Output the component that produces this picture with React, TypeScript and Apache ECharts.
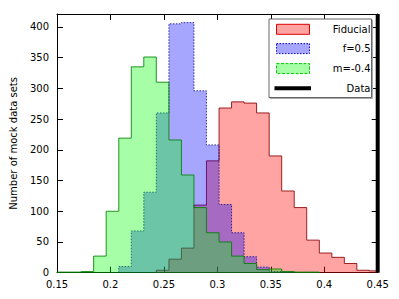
import React, { useEffect, useRef } from "react";
import * as echarts from "echarts";

// Shared histogram bin edges (27 edges -> 26 bins)
const binEdges = [
  0.1492, 0.1609, 0.1726, 0.1843, 0.196, 0.2078, 0.2195, 0.2312, 0.2429,
  0.2547, 0.2664, 0.2781, 0.2898, 0.3016, 0.3133, 0.325, 0.3367, 0.3485,
  0.3602, 0.3719, 0.3836, 0.3954, 0.4071, 0.4188, 0.4305, 0.4422, 0.454,
];

// Counts per bin
const fiducialCounts = [
  0, 0, 0, 0, 0, 0, 0, 0, 4, 22, 40, 110, 182, 268, 278, 276, 260, 190, 133,
  106, 53, 32, 25, 15, 4, 3,
];
const f05Counts = [
  0, 0, 0, 0, 0, 10, 68, 131, 260, 405, 407, 296, 208, 111, 65, 26, 9, 2, 1,
  0, 0, 0, 0, 0, 0, 0,
];
const mNeg04Counts = [
  1, 1, 2, 27, 100, 219, 335, 351, 310, 216, 159, 106, 65, 50, 27, 15, 5, 6,
  2, 1, 1, 0, 0, 0, 0, 0,
];

const dataValue = 0.45;
const seriesNames = ["Fiducial", "f=0.5", "m=-0.4", "Data"];
const xMin = 0.15;
const xMax = 0.45;
const xStep = 0.05;
const yMin = 0;
const yMax = 421;
const yStep = 50;
const yAxisTitle = "Number of mock data sets";

const FONT = "DejaVu Sans";

const fills = ["rgba(255,0,0,0.36)", "rgba(0,0,255,0.35)", "rgba(0,255,0,0.35)"];
const strokes = ["rgba(139,0,0,0.85)", "rgba(0,0,139,0.8)", "rgba(0,128,0,0.85)"];

function histPoints(api: any, counts: number[]) {
  let first = counts.findIndex((c) => c > 0);
  let last = counts.length - 1;
  while (last > 0 && counts[last] <= 0) last--;
  const pts: number[][] = [api.coord([binEdges[first], 0])];
  for (let i = first; i <= last; i++) {
    pts.push(api.coord([binEdges[i], counts[i]]));
    pts.push(api.coord([binEdges[i + 1], counts[i]]));
  }
  pts.push(api.coord([binEdges[last + 1], 0]));
  return pts;
}

function histSeries(name: string, counts: number[], idx: number, dash?: number[]) {
  return {
    type: "custom",
    name,
    data: [[0.3, 0]],
    clip: true,
    silent: true,
    z: 2 + idx,
    renderItem: (params: any, api: any) => ({
      type: "polygon",
      shape: { points: histPoints(api, counts) },
      style: {
        fill: fills[idx],
        stroke: strokes[idx],
        lineWidth: 1,
        lineDash: dash,
      },
    }),
  };
}

export default function App() {
  const ref = useRef<HTMLDivElement>(null);
  useEffect(() => {
    if (!ref.current) return;
    const chart = echarts.init(ref.current, undefined, { renderer: "svg" });

    const axisLine = { show: true, onZero: false, lineStyle: { color: "#000", width: 1 } };
    const axisTick = { show: true, inside: true, length: 6, lineStyle: { color: "#000" } };
    const fmtX = (v: number) => String(+v.toFixed(2));
    const fmtY = (v: number) => (Math.round(v) % yStep === 0 ? String(Math.round(v)) : "");

    // Legend
    const lx = 269, ly = 19, lw = 102.5, lh = 78.5;
    const rowY = [29.3, 48.6, 68.6, 88.3];
    const legendEls: any[] = [
      {
        type: "rect",
        shape: { x: lx + 1, y: ly + 1, width: lw, height: lh },
        style: { fill: "none", stroke: "#aaa", lineWidth: 1 },
        z: 100,
      },
      {
        type: "rect",
        shape: { x: lx, y: ly, width: lw, height: lh },
        style: { fill: "#fff", stroke: "#666", lineWidth: 1 },
        z: 101,
      },
    ];
    const swStrokes = ["#e00000", "#0000cc", "#00cc00"];
    const swDash: any[] = [null, [1.5, 1.5], [3, 1.5]];
    seriesNames.forEach((n, i) => {
      if (i < 3) {
        legendEls.push({
          type: "rect",
          shape: { x: 276.5, y: rowY[i] - 5, width: 33, height: 10 },
          style: { fill: fills[i], stroke: swStrokes[i], lineWidth: 1, lineDash: swDash[i] },
          z: 102,
        });
      } else {
        legendEls.push({
          type: "line",
          shape: { x1: 274.5, y1: rowY[i], x2: 311, y2: rowY[i] },
          style: { stroke: "#000", lineWidth: 4 },
          z: 102,
        });
      }
      legendEls.push({
        type: "text",
        x: 370.5,
        y: rowY[i],
        style: {
          text: n,
          fill: "#000",
          font: `10px '${FONT}'`,
          textAlign: "right",
          textVerticalAlign: "middle",
        },
        z: 103,
      });
    });

    chart.setOption({
      animation: false,
      backgroundColor: "#fff",
      grid: { left: 51.7, right: 21.3, top: 14, bottom: 26.3, containLabel: false },
      xAxis: [
        {
          type: "value",
          position: "bottom",
          min: xMin,
          max: xMax,
          interval: xStep,
          axisLine,
          axisTick,
          splitLine: { show: false },
          axisLabel: { color: "#000", fontSize: 10, fontFamily: FONT, margin: 7, formatter: fmtX },
        },
        {
          type: "value",
          position: "top",
          min: xMin,
          max: xMax,
          interval: xStep,
          axisLine,
          axisTick,
          splitLine: { show: false },
          axisLabel: { show: false },
        },
      ],
      yAxis: [
        {
          type: "value",
          position: "left",
          min: yMin,
          max: yMax,
          interval: yStep,
          axisLine,
          axisTick,
          splitLine: { show: false },
          axisLabel: {
            color: "#000",
            fontSize: 10,
            fontFamily: FONT,
            margin: 8,
            formatter: fmtY,
            showMaxLabel: false,
          },
          name: yAxisTitle,
          nameLocation: "middle",
          nameGap: 39,
          nameTextStyle: { color: "#000", fontSize: 10, fontFamily: FONT },
        },
        {
          type: "value",
          position: "right",
          min: yMin,
          max: yMax,
          interval: yStep,
          axisLine,
          axisTick,
          splitLine: { show: false },
          axisLabel: { show: false },
        },
      ],
      series: [
        histSeries(seriesNames[0], fiducialCounts, 0),
        histSeries(seriesNames[1], f05Counts, 1, [1.5, 1.5]),
        histSeries(seriesNames[2], mNeg04Counts, 2),
        {
          type: "line",
          name: seriesNames[3],
          data: [
            [dataValue, yMin],
            [dataValue, yMax],
          ],
          symbol: "none",
          clip: false,
          silent: true,
          z: 10,
          lineStyle: { color: "#000", width: 4 },
        },
      ],
      graphic: { elements: legendEls },
    });
    return () => chart.dispose();
  }, []);
  return (
    <div
      ref={ref}
      style={{ position: "fixed", left: 0, top: 0, width: 399, height: 299 }}
    />
  );
}
